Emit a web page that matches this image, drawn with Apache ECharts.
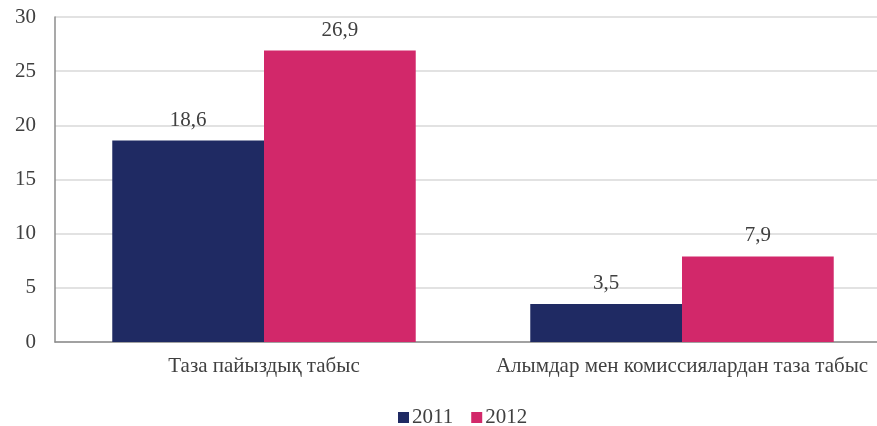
<!DOCTYPE html>
<html>
<head>
<meta charset="utf-8">
<script src="https://cdn.jsdelivr.net/npm/echarts@6/dist/echarts.min.js"></script>
<style>html,body{margin:0;padding:0;background:#fff}#c{width:877px;height:426px}</style>
</head>
<body>
<div id="c"></div>
<script>
const categories = ['Таза пайыздық табыс', 'Алымдар мен комиссиялардан таза табыс'];
const seriesNames = ['2011', '2012'];
const values2011 = [18.6, 3.5];
const values2012 = [26.9, 7.9];
const yTicks = [0, 5, 10, 15, 20, 25, 30];

const font = "'Liberation Serif', 'Times New Roman', serif";
const textColor = '#404040';
const fs = 21;
const chart = echarts.init(document.getElementById('c'), null, {renderer: 'canvas'});
const labelCfg = {
  show: true, position: 'top', distance: 10,
  fontFamily: font, fontSize: fs, color: textColor,
  formatter: p => String(p.value).replace('.', ',')
};
chart.setOption({
  animation: false,
  grid: {left: 55, width: 836, top: 17, height: 325, outerBoundsMode: 'none', containLabel: false},
  legend: {
    top: 402, left: 393,
    data: seriesNames,
    icon: 'rect', itemWidth: 11, itemHeight: 11, itemGap: 18,
    textStyle: {fontFamily: font, fontSize: fs, color: textColor, padding: [0, 0, 0, -2]}
  },
  xAxis: {
    type: 'category', data: categories,
    axisLine: {lineStyle: {color: '#8c8c8c', width: 1.5}},
    axisTick: {show: false},
    axisLabel: {fontFamily: font, fontSize: fs, color: textColor, margin: 14, interval: 0, hideOverlap: false}
  },
  yAxis: {
    type: 'value', min: 0, max: 30, interval: 5,
    axisLine: {show: true, lineStyle: {color: '#8c8c8c', width: 1.5}},
    axisTick: {show: false},
    splitLine: {lineStyle: {color: '#d9d9d9', width: 1.5}},
    axisLabel: {fontFamily: font, fontSize: fs, color: textColor, margin: 19,
      formatter: v => yTicks.includes(v) ? String(v) : ''}
  },
  series: [
    {name: seriesNames[0], type: 'bar', data: values2011, barGap: '0%', barCategoryGap: '27.4%',
     itemStyle: {color: '#1f2a63'}, label: labelCfg},
    {name: seriesNames[1], type: 'bar', data: values2012, barGap: '0%', barCategoryGap: '27.4%',
     itemStyle: {color: '#d2286a'}, label: labelCfg}
  ]
});
</script>
</body>
</html>
